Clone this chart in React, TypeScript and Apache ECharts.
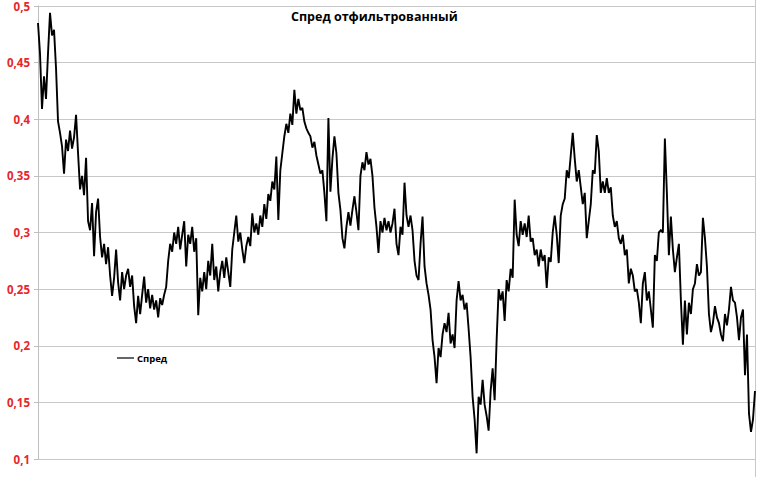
import React, { useEffect, useRef } from "react";
import * as echarts from "echarts";

const titleText = "Спред отфильтрованный";
const seriesName = "Спред";

const spread: number[] = [
  0.485, 0.458, 0.409, 0.438, 0.418, 0.458, 0.494, 0.474, 0.479, 0.445,
  0.398, 0.388, 0.376, 0.352, 0.382, 0.372, 0.39, 0.374, 0.384, 0.404,
  0.37, 0.338, 0.35, 0.333, 0.366, 0.31, 0.302, 0.326, 0.279, 0.318,
  0.33, 0.296, 0.278, 0.29, 0.272, 0.287, 0.262, 0.244, 0.26, 0.285,
  0.256, 0.24, 0.265, 0.25, 0.262, 0.268, 0.252, 0.262, 0.235, 0.22,
  0.244, 0.228, 0.245, 0.261, 0.238, 0.25, 0.233, 0.245, 0.232, 0.24,
  0.225, 0.242, 0.236, 0.245, 0.252, 0.275, 0.29, 0.283, 0.3, 0.29,
  0.305, 0.285, 0.298, 0.31, 0.27, 0.298, 0.29, 0.305, 0.283, 0.295,
  0.227, 0.26, 0.248, 0.265, 0.25, 0.275, 0.262, 0.29, 0.258, 0.27,
  0.248, 0.265, 0.275, 0.26, 0.278, 0.265, 0.252, 0.285, 0.3, 0.315,
  0.292, 0.3, 0.285, 0.273, 0.288, 0.296, 0.288, 0.317, 0.3, 0.308,
  0.298, 0.315, 0.305, 0.325, 0.312, 0.334, 0.328, 0.345, 0.338, 0.367,
  0.311, 0.355, 0.37, 0.385, 0.396, 0.388, 0.405, 0.395, 0.426, 0.405,
  0.418, 0.408, 0.41, 0.398, 0.392, 0.388, 0.385, 0.375, 0.38, 0.368,
  0.36, 0.352, 0.355, 0.335, 0.31, 0.401, 0.336, 0.365, 0.385, 0.37,
  0.335, 0.32, 0.295, 0.286, 0.305, 0.318, 0.306, 0.32, 0.332, 0.318,
  0.302, 0.35, 0.362, 0.355, 0.371, 0.36, 0.365, 0.35, 0.322, 0.305,
  0.282, 0.31, 0.3, 0.313, 0.302, 0.31, 0.3, 0.308, 0.321, 0.29,
  0.28, 0.305, 0.298, 0.344, 0.315, 0.305, 0.315, 0.302, 0.275, 0.262,
  0.258, 0.29, 0.314, 0.27, 0.255, 0.245, 0.232, 0.205, 0.19, 0.167,
  0.198, 0.19, 0.21, 0.22, 0.212, 0.229, 0.202, 0.21, 0.198, 0.24,
  0.257, 0.24, 0.245, 0.232, 0.238, 0.215, 0.19, 0.155, 0.135, 0.105,
  0.155, 0.148, 0.17, 0.148, 0.138, 0.125, 0.16, 0.18, 0.152, 0.205,
  0.25, 0.24, 0.248, 0.222, 0.258, 0.248, 0.268, 0.26, 0.329, 0.298,
  0.288, 0.31, 0.298, 0.308, 0.296, 0.315, 0.292, 0.295, 0.28, 0.285,
  0.27, 0.285, 0.275, 0.28, 0.251, 0.278, 0.274, 0.3, 0.315, 0.298,
  0.273, 0.315, 0.325, 0.33, 0.355, 0.348, 0.368, 0.388, 0.365, 0.345,
  0.355, 0.34, 0.325, 0.335, 0.295, 0.31, 0.325, 0.355, 0.352, 0.386,
  0.372, 0.335, 0.345, 0.335, 0.348, 0.335, 0.34, 0.315, 0.305, 0.31,
  0.295, 0.29, 0.298, 0.28, 0.285, 0.255, 0.268, 0.262, 0.248, 0.25,
  0.238, 0.22, 0.255, 0.265, 0.24, 0.248, 0.232, 0.216, 0.28, 0.275,
  0.3, 0.302, 0.3, 0.383, 0.335, 0.28, 0.314, 0.285, 0.265, 0.278,
  0.29, 0.24, 0.201, 0.24, 0.21, 0.238, 0.228, 0.25, 0.255, 0.272,
  0.262, 0.265, 0.313, 0.295, 0.27, 0.228, 0.212, 0.22, 0.235, 0.225,
  0.22, 0.21, 0.204, 0.228, 0.218, 0.232, 0.252, 0.24, 0.238, 0.225,
  0.205, 0.225, 0.232, 0.174, 0.21, 0.14, 0.124, 0.135, 0.16,
];

const categories: string[] = spread.map((_, i) => String(i + 1));

const yMin = 0.1;
const yMax = 0.5;
const yStep = 0.05;

export default function App() {
  const ref = useRef<HTMLDivElement>(null);

  useEffect(() => {
    if (!ref.current) return;
    const chart = echarts.init(ref.current, undefined, { renderer: "svg" });
    chart.setOption({
      animation: false,
      backgroundColor: "#ffffff",
      title: {
        text: titleText,
        left: 286,
        top: 5,
        textStyle: {
          fontFamily: "Open Sans",
          fontWeight: "bold",
          fontSize: 12.5,
          color: "#000000",
        },
      },
      legend: {
        left: 112,
        top: 348,
        icon: "rect",
        itemWidth: 17,
        itemHeight: 1.5,
        itemGap: 4,
        data: [{ name: seriesName, itemStyle: { color: "#333333" } }],
        textStyle: {
          fontFamily: "Open Sans",
          fontWeight: "bold",
          fontSize: 9.5,
          color: "#000000",
          padding: [0, 0, 0, -2],
        },
      },
      grid: {
        left: 38,
        right: 3,
        top: 6,
        bottom: 18,
        containLabel: false,
      },
      xAxis: {
        type: "category",
        data: categories,
        boundaryGap: false,
        axisLine: { show: false },
        axisTick: { show: false },
        axisLabel: { show: false },
        splitLine: { show: false },
      },
      yAxis: {
        type: "value",
        min: yMin,
        max: yMax,
        interval: yStep,
        axisLine: { show: true, lineStyle: { color: "#bfbfbf", width: 1 } },
        axisTick: { show: true, length: 4, lineStyle: { color: "#bfbfbf" } },
        splitLine: { show: true, lineStyle: { color: "#c8c8c8", width: 1 } },
        axisLabel: {
          margin: 8,
          color: "#e8262b",
          fontFamily: "Open Sans",
          fontWeight: "bold",
          fontSize: 11.5,
          formatter: (v: number) => String(Math.round(v * 100) / 100).replace(".", ","),
        },
      },
      graphic: [
        {
          type: "line",
          shape: { x1: 755.5, y1: 0, x2: 755.5, y2: 477 },
          style: { stroke: "#c8c8c8", lineWidth: 1 },
          silent: true,
        },
      ],
      series: [
        {
          name: seriesName,
          type: "line",
          data: spread,
          showSymbol: false,
          symbol: "none",
          lineStyle: { color: "#000000", width: 1.9, join: "miter", miterLimit: 2 },
          itemStyle: { color: "#000000" },
        },
      ],
    });
    return () => chart.dispose();
  }, []);

  return <div ref={ref} style={{ width: 758, height: 477, position: "absolute", left: 0, top: 0 }} />;
}
